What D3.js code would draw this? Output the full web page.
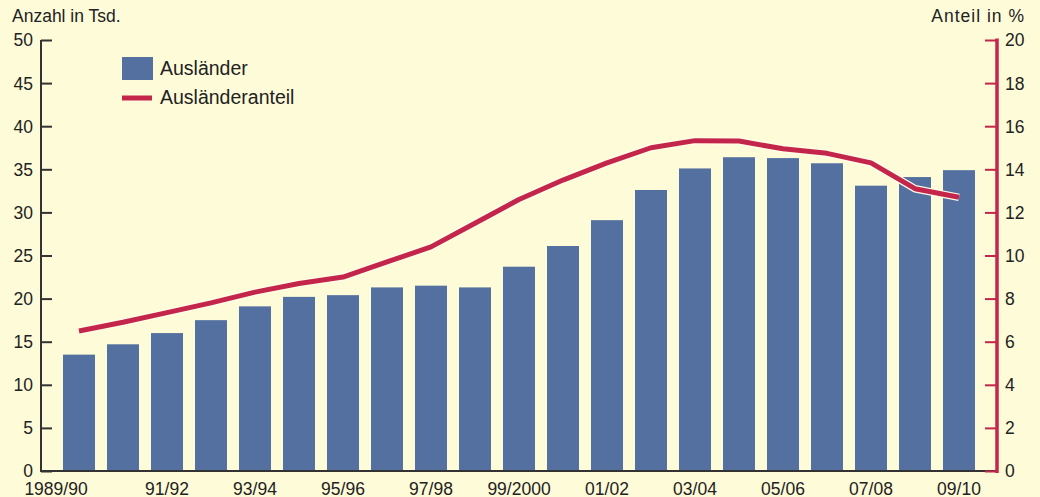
<!DOCTYPE html>
<html><head><meta charset="utf-8">
<script src="https://cdn.jsdelivr.net/npm/d3@7"></script>
<style>
html,body{margin:0;padding:0;background:#FEFBD9;}
svg{display:block;}
text{font-family:"Liberation Sans",Arial,sans-serif;fill:#222;}
</style></head>
<body>
<svg id="chart" width="1040" height="497"></svg>
<script>
const categories = ["1989/90","1990/91","1991/92","1992/93","1993/94","1994/95","1995/96","1996/97","1997/98","1998/99","1999/2000","2000/01","2001/02","2002/03","2003/04","2004/05","2005/06","2006/07","2007/08","2008/09","2009/10"];
const tickLabels = ["1989/90","","91/92","","93/94","","95/96","","97/98","","99/2000","","01/02","","03/04","","05/06","","07/08","","09/10"];
const auslaender = [13.5,14.7,16.0,17.5,19.1,20.2,20.4,21.3,21.5,21.3,23.7,26.1,29.1,32.6,35.1,36.4,36.3,35.7,33.1,34.1,34.9];
const anteil = [6.5,6.9,7.35,7.8,8.3,8.7,9.0,9.7,10.4,11.5,12.6,13.5,14.3,15.0,15.33,15.31,14.95,14.74,14.3,13.1,12.7];
const leftTicks = [0,5,10,15,20,25,30,35,40,45,50];
const rightTicks = [0,2,4,6,8,10,12,14,16,18,20];

const svg = d3.select("#chart");
const W = 1040, H = 497;
svg.append("rect").attr("width",W).attr("height",H).attr("fill","#FEFBD9");

const x = d3.scaleBand().domain(categories).range([57,981]).paddingInner(12/44).paddingOuter(6/44);
const yL = d3.scaleLinear().domain([0,50]).range([471,40]);
const yR = d3.scaleLinear().domain([0,20]).range([471,40]);

const barColor = "#5470A0", red = "#C4264B", axisCol = "#333";

// bars
svg.append("g").selectAll("rect").data(auslaender).join("rect")
  .attr("x",(d,i)=>x(categories[i]))
  .attr("y",d=>yL(d))
  .attr("width",x.bandwidth())
  .attr("height",d=>yL(0)-yL(d))
  .attr("fill",barColor);

// line with halo
const line = d3.line().x((d,i)=>x(categories[i])+x.bandwidth()/2).y(d=>yR(d));
svg.append("path").datum(anteil).attr("d",line).attr("fill","none")
  .attr("stroke","#FFFDE8").attr("stroke-width",7.5).attr("stroke-linejoin","round");
svg.append("path").datum(anteil).attr("d",line).attr("fill","none")
  .attr("stroke",red).attr("stroke-width",5).attr("stroke-linejoin","round");

// left axis
const gL = svg.append("g").attr("transform","translate(41,0)")
  .call(d3.axisRight(yL).tickValues(leftTicks).tickSize(11).tickFormat(d3.format("d")));
gL.select(".domain").attr("stroke",axisCol).attr("stroke-width",2).attr("d","M0,40V472");
gL.selectAll(".tick line").attr("stroke",axisCol).attr("stroke-width",2);
gL.selectAll(".tick text").attr("x",-8).attr("text-anchor","end").attr("dy","0.34em")
  .style("font-size","17.5px").attr("fill","#222");

// bottom axis
const gB = svg.append("g").attr("transform","translate(0,471)")
  .call(d3.axisBottom(x).tickSize(0).tickFormat((d,i)=>tickLabels[i]));
gB.select(".domain").attr("stroke",axisCol).attr("stroke-width",2).attr("d","M40,0H997");
gB.selectAll(".tick text").attr("y",23.5).attr("dy",0).style("font-size","17.5px").attr("fill","#222")
  .attr("dx",(d,i)=>i===0?-23:0);

// right axis
const gR = svg.append("g").attr("transform","translate(997,0)")
  .call(d3.axisLeft(yR).tickValues(rightTicks).tickSize(12).tickFormat(d3.format("d")));
gR.select(".domain").attr("stroke",red).attr("stroke-width",3.5).attr("d","M0,38.5V473");
gR.selectAll(".tick line").attr("stroke",red).attr("stroke-width",2);
gR.selectAll(".tick text").attr("x",8).attr("text-anchor","start").attr("dy","0.34em")
  .style("font-size","17.5px").attr("fill","#222");

// axis titles
svg.append("text").attr("x",12).attr("y",22).style("font-size","17.5px").text("Anzahl in Tsd.");
svg.append("text").attr("x",1025).attr("y",22).attr("text-anchor","end").style("font-size","17.5px")
  .style("letter-spacing","1px").text("Anteil in %");

// legend
svg.append("rect").attr("x",122).attr("y",57).attr("width",31).attr("height",23).attr("fill",barColor);
svg.append("text").attr("x",160).attr("y",74.5).style("font-size","19.5px").text("Ausländer");
svg.append("line").attr("x1",122).attr("x2",152).attr("y1",98).attr("y2",98).attr("stroke",red).attr("stroke-width",5);
svg.append("text").attr("x",160).attr("y",104).style("font-size","19.5px").text("Ausländeranteil");
</script>
</body></html>
